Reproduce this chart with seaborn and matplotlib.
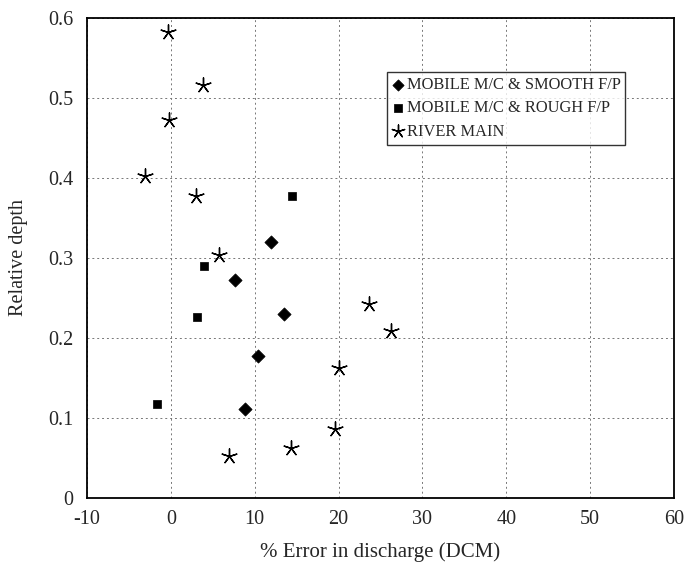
import pandas as pd
import seaborn as sns
import matplotlib.pyplot as plt

# values
smooth_x = [12.0, 7.7, 13.5, 10.4, 8.8]
smooth_y = [0.320, 0.272, 0.230, 0.178, 0.111]

rough_x = [14.4, 4.0, 3.1, -1.6]
rough_y = [0.378, 0.290, 0.226, 0.118]

river_x = [-0.3, 3.8, -0.2, -3.1, 3.0, 5.8, 23.6, 26.3, 20.0, 19.6, 14.3, 6.9]
river_y = [0.583, 0.516, 0.473, 0.402, 0.377, 0.304, 0.242, 0.209, 0.163, 0.086, 0.062, 0.052]

x_ticks = [-10, 0, 10, 20, 30, 40, 50, 60]
y_ticks = [0, 0.1, 0.2, 0.3, 0.4, 0.5, 0.6]

sns.set_style("white")
plt.rcParams['font.family'] = ['Liberation Serif', 'DejaVu Serif']

fig, ax = plt.subplots(figsize=(6.85, 5.62), dpi=100)
fig.subplots_adjust(left=0.127, right=0.984, bottom=0.114, top=0.968)

sns.scatterplot(x=smooth_x, y=smooth_y, marker="D", s=45, color="black",
                edgecolor="black", label="MOBILE M/C & SMOOTH F/P", ax=ax)
sns.scatterplot(x=rough_x, y=rough_y, marker="s", s=40, color="black",
                edgecolor="black", label="MOBILE M/C & ROUGH F/P", ax=ax)
sns.scatterplot(x=river_x, y=river_y, marker=(5, 2, 0), s=120, color="black",
                linewidth=1.0, label="RIVER MAIN", ax=ax)

ax.set_xlim(-10, 60)
ax.set_ylim(0, 0.6)
ax.set_xticks(x_ticks)
ax.set_yticks(y_ticks)
ax.set_xticklabels([str(t) for t in x_ticks])
ax.set_yticklabels(["0", "0.1", "0.2", "0.3", "0.4", "0.5", "0.6"])
ax.tick_params(labelsize=14.5, length=0)
ax.tick_params(axis="y", pad=10)
ax.tick_params(axis="x", pad=9)
ax.grid(True, linestyle=(0, (2, 3)), color="#777777", linewidth=0.7)

for sp in ax.spines.values():
    sp.set_color("black")
    sp.set_linewidth(1.3)

ax.set_xlabel("% Error in discharge (DCM)", fontsize=15, labelpad=9)
ax.set_ylabel("Relative depth", fontsize=14.5, labelpad=14)

leg = ax.legend(loc="upper left", bbox_to_anchor=(0.511, 0.8875), borderaxespad=0,
                fontsize=11.8, frameon=True, fancybox=False, edgecolor="black",
                handletextpad=0.15, handlelength=0.75, borderpad=0.3,
                labelspacing=0.45, markerscale=0.85)
leg.get_frame().set_linewidth(1.0)

fig.savefig("out.png")
